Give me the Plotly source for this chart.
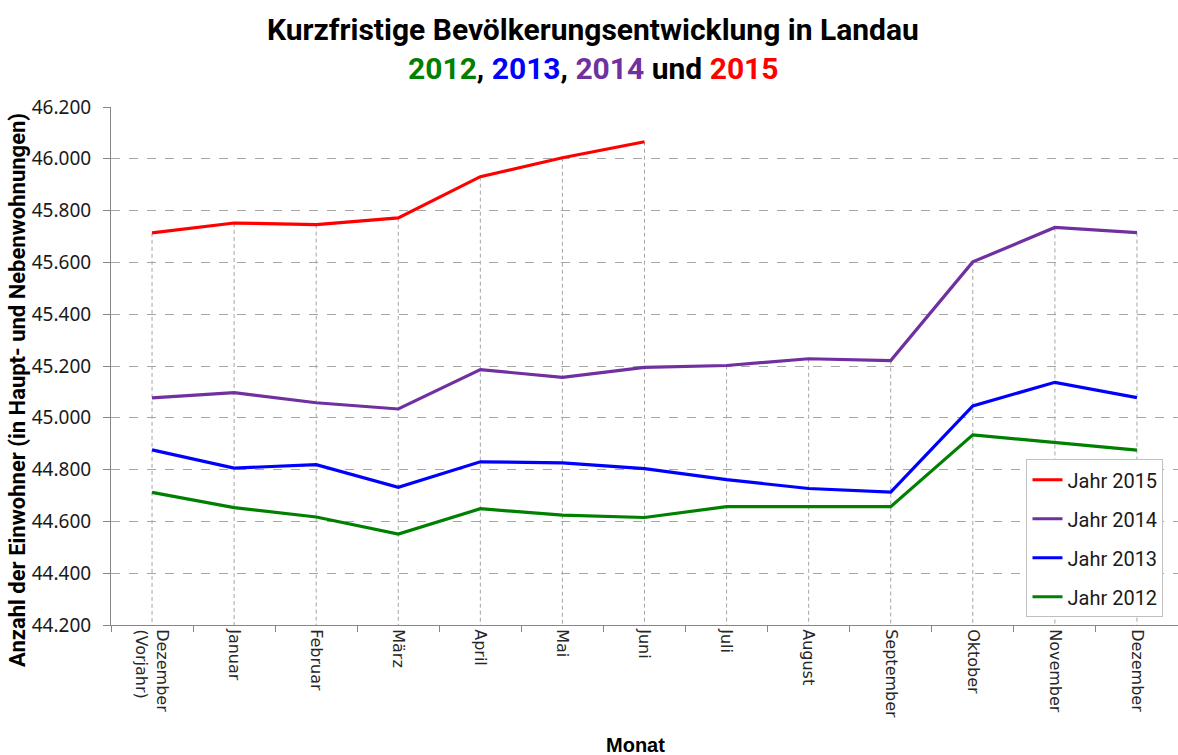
import plotly.graph_objects as go

months = ["Dezember<br>(Vorjahr)", "Januar", "Februar", "März", "April", "Mai", "Juni",
          "Juli", "August", "September", "Oktober", "November", "Dezember"]

y2015 = [45714, 45752, 45746, 45772, 45931, 46004, 46066, None, None, None, None, None, None]
y2014 = [45077, 45097, 45058, 45034, 45186, 45156, 45195, 45202, 45228, 45221, 45602, 45735, 45715]
y2013 = [44876, 44806, 44819, 44732, 44830, 44826, 44804, 44761, 44727, 44713, 45046, 45137, 45078]
y2012 = [44712, 44653, 44617, 44551, 44649, 44624, 44615, 44657, 44657, 44657, 44934, 44903, 44875]

series = [
    ("Jahr 2015", y2015, "#FF0000"),
    ("Jahr 2014", y2014, "#7030A0"),
    ("Jahr 2013", y2013, "#0000FF"),
    ("Jahr 2012", y2012, "#008000"),
]

y_min, y_max, y_step = 44200, 46200, 200
idx = list(range(len(months)))

fig = go.Figure()

# drop lines from the highest value down to the category axis
dx, dy = [], []
for i in idx:
    vals = [s[1][i] for s in series if s[1][i] is not None]
    dx += [i, i, None]
    dy += [max(vals), y_min, None]
fig.add_trace(go.Scatter(x=dx, y=dy, mode="lines", showlegend=False, hoverinfo="skip",
                         line=dict(color="#A6A6A6", width=1, dash="4px,3px")))

for name, vals, color in series:
    fig.add_trace(go.Scatter(x=idx, y=vals, mode="lines", name=name, legendgroup=name,
                             line=dict(color=color, width=3.2), connectgaps=False))

title_font = "Roboto, 'Open Sans', sans-serif"
fig.add_annotation(text="<b>Kurzfristige Bevölkerungsentwicklung in Landau</b>",
                   xref="paper", yref="paper", x=0.452, y=1.149, xanchor="center", yanchor="middle",
                   showarrow=False, font=dict(family=title_font, size=30, color="#000000"))
fig.add_annotation(text="<b><span style='color:#008000'>2012</span>, <span style='color:#0000FF'>2013</span>, "
                        "<span style='color:#7030A0'>2014</span> und <span style='color:#FF0000'>2015</span></b>",
                   xref="paper", yref="paper", x=0.452, y=1.075, xanchor="center", yanchor="middle",
                   showarrow=False, font=dict(family=title_font, size=30, color="#000000"))
fig.add_annotation(text="<b>Anzahl der Einwohner (in Haupt- und Nebenwohnungen)</b>",
                   xref="paper", yref="paper", x=-0.087, y=0.454, xanchor="center", yanchor="middle",
                   textangle=-90, showarrow=False,
                   font=dict(family=title_font, size=22, color="#000000"))
fig.add_annotation(text="<b>Monat</b>", xref="paper", yref="paper", x=0.492, y=-0.2317,
                   xanchor="center", yanchor="middle", showarrow=False,
                   font=dict(family="'Liberation Sans', Arial, sans-serif", size=20, color="#000000"))

fig.update_xaxes(range=[-0.5, len(months) - 0.5], tickmode="array", tickvals=idx, ticktext=months,
                 tickangle=90, ticks="", showgrid=False, zeroline=False,
                 showline=True, linecolor="#868686", linewidth=1,
                 tickfont=dict(family="'DejaVu Sans', sans-serif", size=16, color="#262626"),
                 minor=dict(tickmode="array", tickvals=[i - 0.5 for i in range(len(months) + 1)],
                            ticks="outside", ticklen=6, tickcolor="#868686", showgrid=False))
fig.update_yaxes(range=[y_min, y_max], dtick=y_step, tick0=y_min, tickformat=",d",
                 ticks="outside", ticklen=7, tickcolor="#868686",
                 showgrid=True, gridcolor="#A6A6A6", griddash="dash", gridwidth=1,
                 zeroline=False, showline=True, linecolor="#868686", linewidth=1,
                 ticklabelstandoff=8,
                 tickfont=dict(family="'Noto Sans', sans-serif", size=19, color="#1a1a1a"))

fig.update_layout(
    width=1178, height=755,
    margin=dict(l=111, r=0, t=107, b=130),
    paper_bgcolor="white", plot_bgcolor="white",
    separators=",.",
    showlegend=True,
    legend=dict(x=0.858, y=0.320, xanchor="left", yanchor="top",
                bgcolor="white", bordercolor="#BFBFBF", borderwidth=1,
                traceorder="grouped", tracegroupgap=10,
                font=dict(family=title_font, size=20, color="#1a1a1a")),
)

fig.write_html("out.html", config={"displayModeBar": False},
               post_script="document.body.style.margin='0';document.body.style.overflow='hidden';")
